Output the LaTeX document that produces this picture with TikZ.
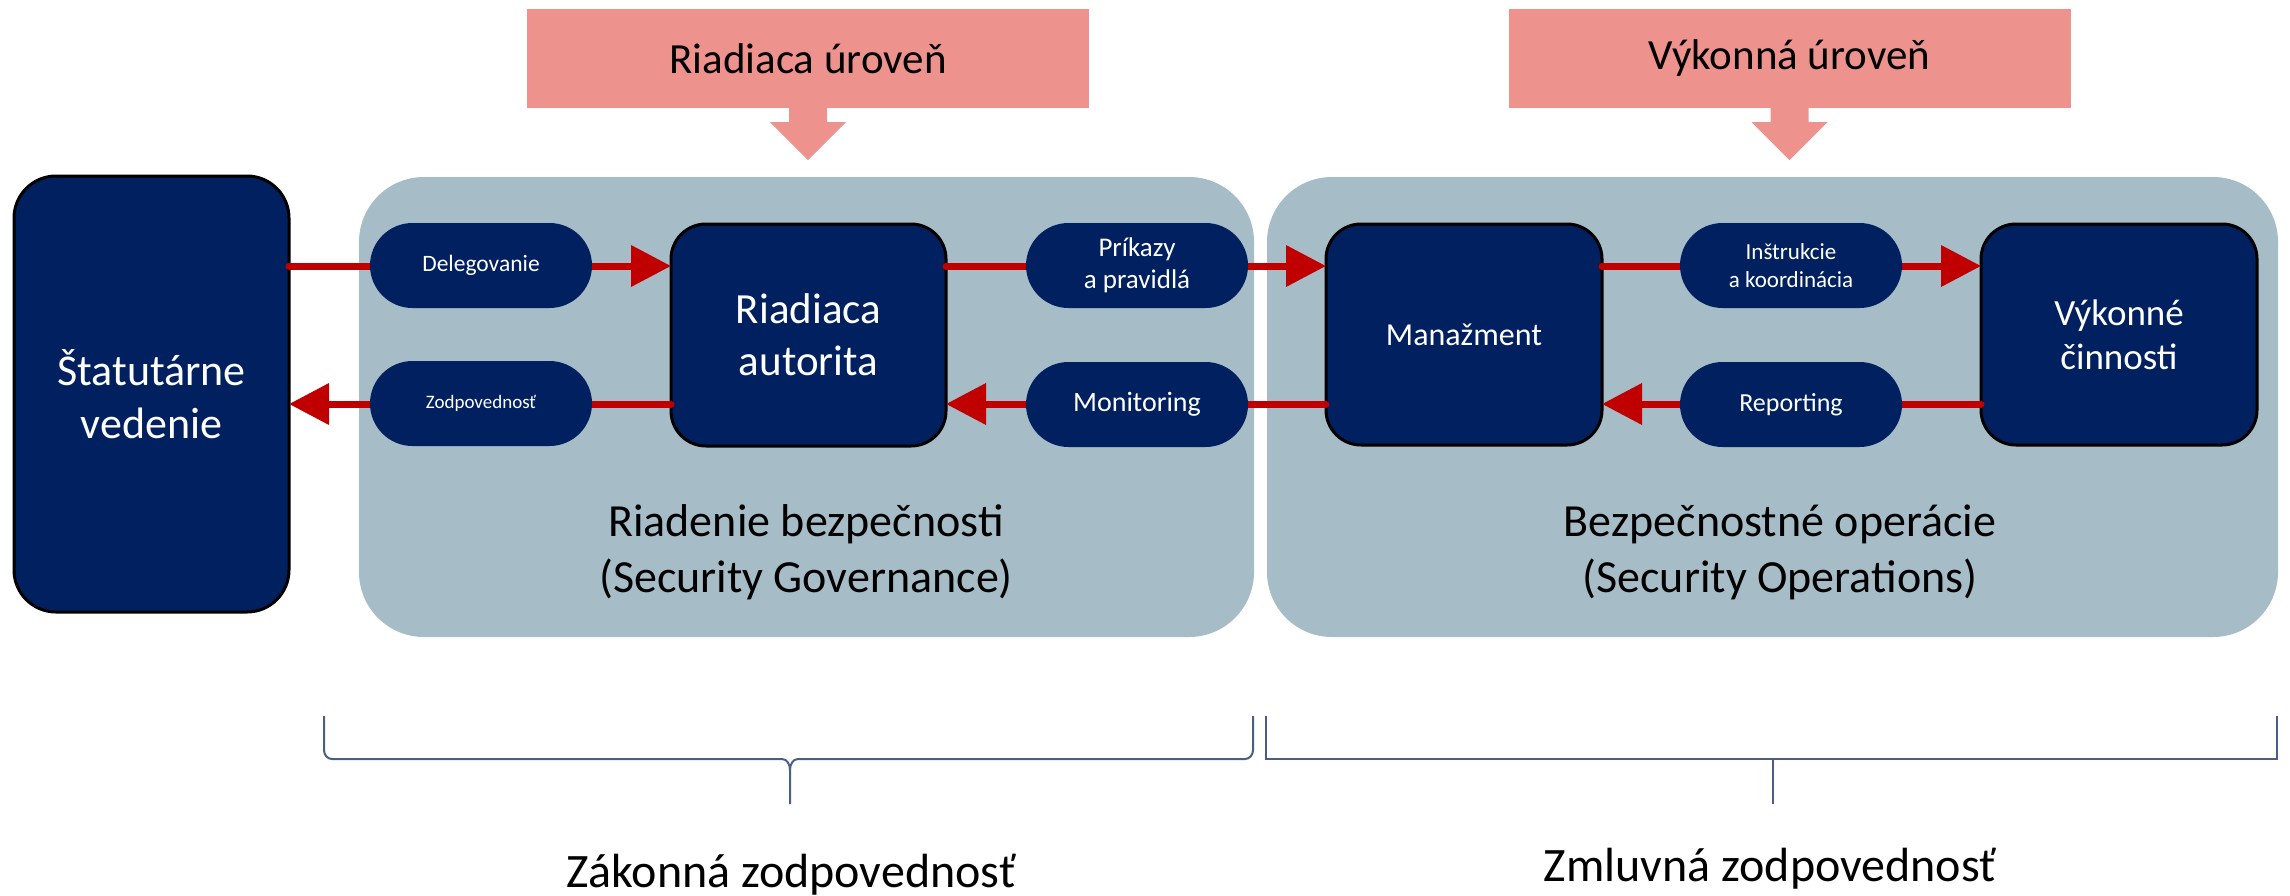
\documentclass[tikz,border=0pt]{standalone}
\usepackage{fontspec}
\setmainfont{Carlito}
\usetikzlibrary{arrows.meta}
\definecolor{navy}{HTML}{002060}
\definecolor{zone}{HTML}{A6BCC6}
\definecolor{salmon}{HTML}{EE928E}
\definecolor{flowred}{HTML}{C00000}
\definecolor{bracecol}{HTML}{4A5D85}
\newcommand{\fsz}[1]{\fontsize{#1}{1.2\dimexpr#1pt\relax}\selectfont}

\begin{document}
\begin{tikzpicture}[x=1pt,y=-1pt,
  zonebox/.style={fill=zone, rounded corners=65pt, minimum height=460, inner sep=0, outer sep=0},
  levelbox/.style={fill=salmon, minimum width=562, minimum height=99, inner sep=0, font=\fsz{43}},
  bigbox/.style={draw=black, line width=3pt, fill=navy, text=white, align=center, inner sep=0, outer sep=0},
  pill/.style={fill=navy, text=white, align=center, rounded corners=42.5pt, minimum width=222, minimum height=85, inner sep=0, outer sep=0},
  flow/.style={draw=flowred, line width=7pt, line cap=round},
  flowarrow/.style={flow, -{Triangle[length=40pt,width=40pt]}},
  zonelabel/.style={align=center, font=\fsz{46}, anchor=base},
  brace/.style={draw=bracecol, line width=2pt},
  footlabel/.style={font=\fsz{48}, anchor=base}
]
\useasboundingbox (0,0) rectangle (2290,895);

% level banners with block arrows
\node[levelbox] (lvl1) at (808,58.5) {Riadiaca úroveň};
\node[levelbox] (lvl2) at (1789.5,58.5) {Výkonná úroveň};
\foreach \b in {lvl1,lvl2}
  \fill[salmon, shift={(\b.south)}] (-19,0) -- (19,0) -- (19,14) -- (38,14) -- (0,52) -- (-38,14) -- (-19,14) -- cycle;

% zones (the base anchor sits on the last line of the label)
\node[zonebox, minimum width=895] (gov) at (806.5,407) {};
\node[zonebox, minimum width=1011] (ops) at (1772.5,407) {};
\node[zonelabel] (govlbl) at (806,592) {Riadenie bezpečnosti\\(Security Governance)};
\node[zonelabel] (opslbl) at (1780,592) {Bezpečnostné operácie\\(Security Operations)};

% main actors
\node[bigbox, rounded corners=42pt, minimum width=275, minimum height=436, font=\fsz{44}] (stat) at (151.5,394) {Štatutárne\\vedenie};
\node[bigbox, rounded corners=35pt, minimum width=275, minimum height=222, font=\fsz{43}] (riad) at (808.5,335) {Riadiaca\\autorita};
\node[bigbox, rounded corners=35pt, minimum width=276, minimum height=221, font=\fsz{32}] (man) at (1464,334.5) {Manažment};
\node[bigbox, rounded corners=35pt, minimum width=276, minimum height=221, font=\fsz{37}] (vyk) at (2119,334.5) {Výkonné\\činnosti};

% flows (drawn under the pills)
\coordinate (ytop) at (0,266);
\coordinate (ybot) at (0,404);
\path[flowarrow] (stat.east |- ytop) -- (riad.west |- ytop);
\path[flowarrow] (riad.east |- ytop) -- (man.west |- ytop);
\path[flowarrow] (man.east |- ytop) -- (vyk.west |- ytop);
\path[flowarrow] (vyk.west |- ybot) -- (man.east |- ybot);
\path[flowarrow] (man.west |- ybot) -- (riad.east |- ybot);
\path[flowarrow] (riad.west |- ybot) -- (stat.east |- ybot);

% flow labels
\node[pill, font=\fsz{23.5}] (deleg) at (481,265.5) {Delegovanie};
\node[pill, font=\fsz{19}] (zodp) at (481,403.5) {Zodpovednosť};
\node[pill, font=\fsz{27}] (prik) at (1137,265.5) {Príkazy\\a pravidlá};
\node[pill, font=\fsz{28}] (mon) at (1137,404.5) {Monitoring};
\node[pill, font=\fsz{23}] (instr) at (1791,265.5) {Inštrukcie\\a koordinácia};
\node[pill, font=\fsz{26}] (rep) at (1791,404.5) {Reporting};

% responsibility braces
\draw[brace] (324,716) -- (324,750) to[out=-90,in=180] (332,759) -- (782,759)
  to[out=0,in=90] (790,770) -- (790,804);
\draw[brace] (790,770) to[out=90,in=180] (798,759) -- (1245,759)
  to[out=0,in=-90] (1253,750) -- (1253,716);
\draw[brace] (1266,716) -- (1266,759) -- (2277,759) -- (2277,716);
\draw[brace] (1773,759) -- (1773,804);

\node[footlabel] (law) at (791,887) {Zákonná zodpovednosť};
\node[footlabel] (contract) at (1770,881) {Zmluvná zodpovednosť};
\end{tikzpicture}
\end{document}
